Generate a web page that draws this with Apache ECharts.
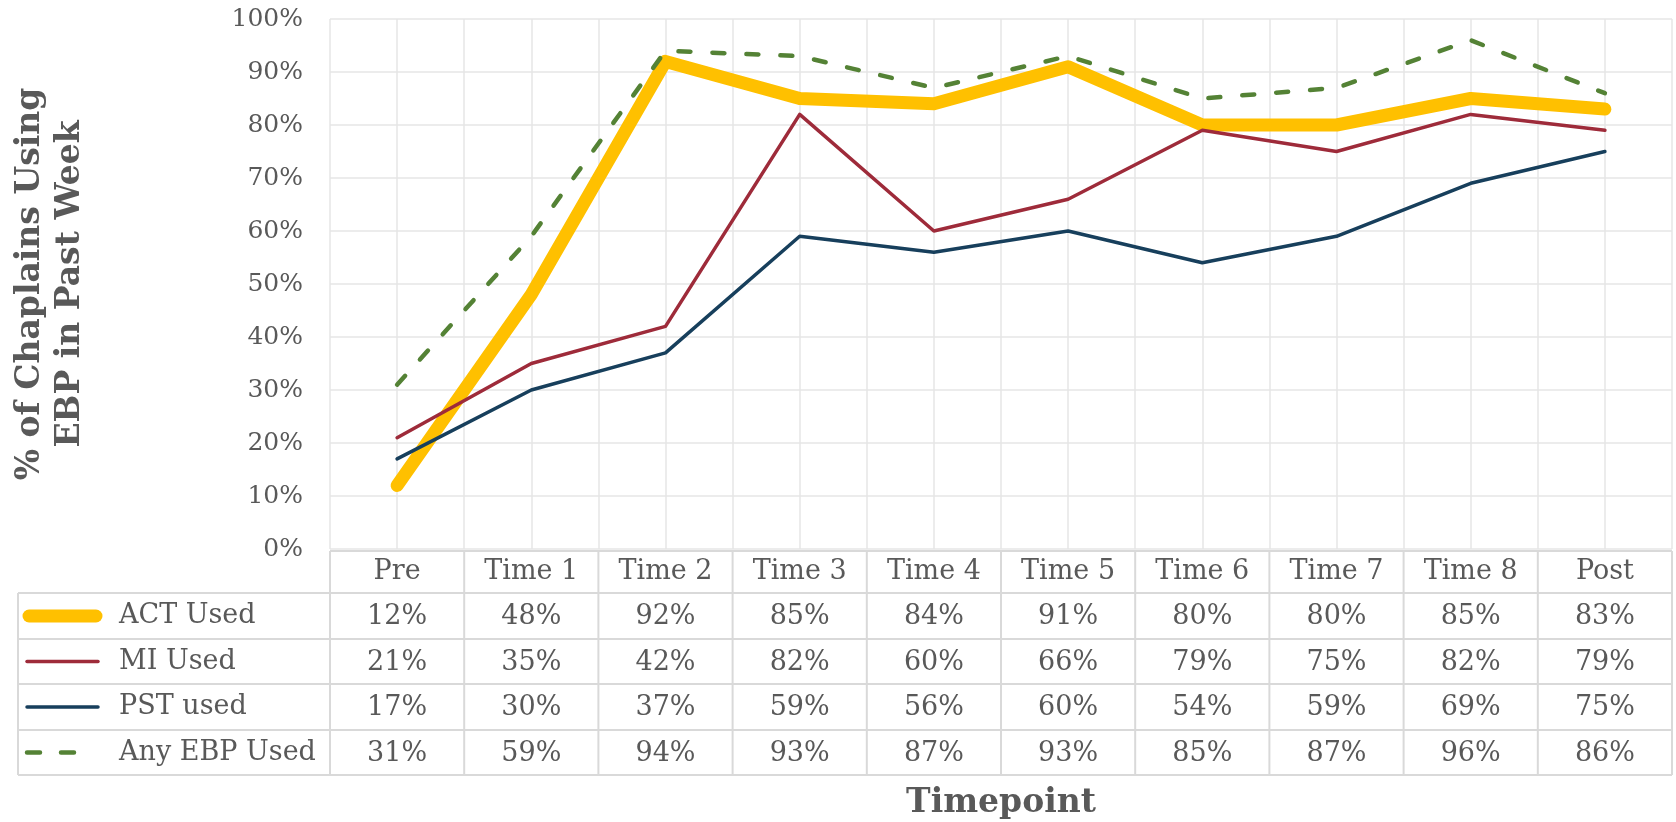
<!DOCTYPE html>
<html><head><meta charset="utf-8">
<script src="https://cdn.jsdelivr.net/npm/echarts@6/dist/echarts.min.js"></script>
<style>html,body{margin:0;padding:0;background:#fff}#c{width:1676px;height:822px}</style>
</head><body><div id="c"></div>
<script>
const categories = ['Pre','Time 1','Time 2','Time 3','Time 4','Time 5','Time 6','Time 7','Time 8','Post'];
const actUsed = [12,48,92,85,84,91,80,80,85,83];
const miUsed  = [21,35,42,82,60,66,79,75,82,79];
const pstUsed = [17,30,37,59,56,60,54,59,69,75];
const anyUsed = [31,59,94,93,87,93,85,87,96,86];
const seriesNames = ['ACT Used','MI Used','PST used','Any EBP Used'];
const yAxisTitle = '% of Chaplains Using\nEBP in Past Week';
const xAxisTitle = 'Timepoint';

const FONT = 'DejaVu Serif';
const TXT = '#595959';
const GRID_C = '#e6e6e6';
const TBL_C = '#d9d9d9';
const seriesData = [actUsed, miUsed, pstUsed, anyUsed];
const styles = [
  {color:'#FFC000', width:13, type:'solid'},
  {color:'#9E2B3A', width:3.5, type:'solid'},
  {color:'#173F5C', width:3.5, type:'solid'},
  {color:'#548235', width:4.5, type:[12,22]}
];

const chart = echarts.init(document.getElementById('c'));
chart.setOption({
  animation:false,
  grid:{left:330,right:4,top:19,bottom:273},
  xAxis:[
    {type:'category', data:categories, boundaryGap:true,
     axisLine:{show:false}, axisTick:{show:false}, axisLabel:{show:false}, splitLine:{show:false}},
    {type:'value', min:0, max:20, interval:1, position:'bottom',
     axisLine:{show:false}, axisTick:{show:false}, axisLabel:{show:false},
     splitLine:{show:true, lineStyle:{color:GRID_C, width:1.5}}}
  ],
  yAxis:{type:'value', min:0, max:100, interval:10,
    axisLabel:{formatter:'{value}%', fontFamily:FONT, fontSize:25, color:TXT, margin:27},
    axisLine:{show:false}, axisTick:{show:false},
    splitLine:{lineStyle:{color:GRID_C, width:1.5}}},
  series: seriesNames.map((n,i)=>({
    name:n, type:'line', data:seriesData[i], showSymbol:false, symbol:'none',
    xAxisIndex:0, z:2+i,
    lineStyle:{color:styles[i].color, width:styles[i].width, type:styles[i].type, cap:'round', join:'round'}
  }))
});

// Data table drawn as graphic elements positioned from the axes
const g = [];
const bx = i => chart.convertToPixel({xAxisIndex:1}, 2*i);
const cx = i => chart.convertToPixel({xAxisIndex:0}, i);
const left = 18, hTop = 551;
const rowY = [593, 639, 684, 730, 775];
const lineEl = (x1,y1,x2,y2)=>({type:'line', shape:{x1,y1,x2,y2}, style:{stroke:TBL_C, lineWidth:2}, z:10});
const right = bx(categories.length);
g.push(lineEl(bx(0), hTop, right, hTop));
rowY.forEach(y=>g.push(lineEl(left, y, right, y)));
g.push(lineEl(left, rowY[0], left, rowY[4]));
for (let i=0;i<=categories.length;i++) g.push(lineEl(bx(i), hTop, bx(i), rowY[4]));
const txt = (text,x,y,align,extra)=>Object.assign({type:'text', x, y, z:11,
  style:{text, fill:TXT, font:'27px "'+FONT+'"', textAlign:align, textVerticalAlign:'middle'}}, extra||{});
categories.forEach((c,i)=>g.push(txt(c, cx(i), (hTop+rowY[0])/2, 'center')));
seriesNames.forEach((n,r)=>{
  const yc = (rowY[r]+rowY[r+1])/2;
  g.push(txt(n, 119, yc, 'left'));
  const st = styles[r];
  const x1 = r===0 ? 29 : 27, x2 = r===0 ? 96 : (r===3 ? 78 : 98);
  g.push({type:'line', shape:{x1, y1:yc, x2, y2:yc}, z:11,
    style:{stroke:st.color, lineWidth:st.width, lineCap:'round', lineDash: r===3 ? [13,21] : null}});
  seriesData[r].forEach((v,i)=>g.push(txt(Math.round(v)+'%', cx(i), yc+1, 'center')));
});
g.push({type:'text', x:50, y:284, rotation:Math.PI/2, z:11,
  style:{text:yAxisTitle, fill:TXT, font:'bold 33px "'+FONT+'"', lineHeight:40, textAlign:'center', textVerticalAlign:'middle'}});
g.push({type:'text', x:(bx(0)+right)/2, y:803, z:11,
  style:{text:xAxisTitle, fill:TXT, font:'bold 33px "'+FONT+'"', textAlign:'center', textVerticalAlign:'middle'}});
chart.setOption({graphic:{elements:g}});
</script>
</body></html>
